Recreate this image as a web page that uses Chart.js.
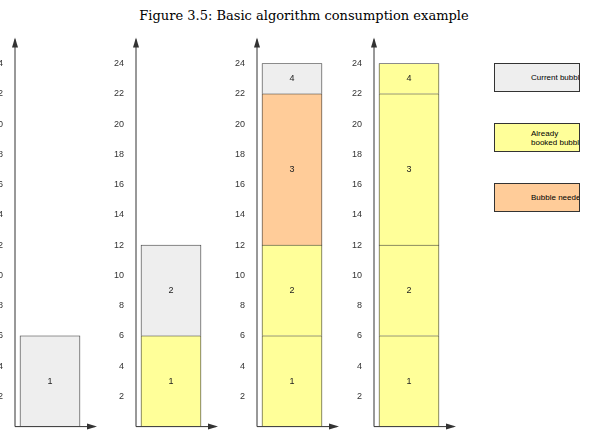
<!DOCTYPE html>
<html><head><meta charset="utf-8">
<script src="https://cdn.jsdelivr.net/npm/chart.js@4"></script>
<style>
body{margin:0;width:608px;height:439px;overflow:hidden;background:#fff;position:relative;font-family:Arial,"Liberation Sans",sans-serif}
#title{position:absolute;top:8px;left:0;width:608px;text-align:center;font-family:"DejaVu Serif","Liberation Serif",serif;font-size:13px;color:#000}
.p{position:absolute;top:30px;width:125px;height:406px}
.lg{position:absolute;left:494px;width:86px;height:29px;border:1px solid #333;box-sizing:border-box;font-size:8px;display:flex;align-items:center;padding-left:36px;white-space:nowrap;overflow:hidden;line-height:9px}
</style></head><body>
<div id="title">Figure 3.5: Basic algorithm consumption example</div>
<div class="p" style="left:-25px"><canvas id="c0"></canvas></div>
<div class="p" style="left:96px"><canvas id="c1"></canvas></div>
<div class="p" style="left:217px"><canvas id="c2"></canvas></div>
<div class="p" style="left:334px"><canvas id="c3"></canvas></div>
<div class="lg" style="top:63px;background:#eeeeee">Current bubble</div>
<div class="lg" style="top:123px;background:#ffff99">Already<br>booked bubble</div>
<div class="lg" style="top:183px;background:#ffcc99">Bubble needed</div>
<script>
const yTicks=[2,4,6,8,10,12,14,16,18,20,22,24];
const panel1Values=[6], panel1Labels=['1'], panel1Colors=['#eeeeee'];
const panel2Values=[6,6], panel2Labels=['1','2'], panel2Colors=['#ffff99','#eeeeee'];
const panel3Values=[6,6,10,2], panel3Labels=['1','2','3','4'], panel3Colors=['#ffff99','#ffff99','#ffcc99','#eeeeee'];
const panel4Values=[6,6,10,2], panel4Labels=['1','2','3','4'], panel4Colors=['#ffff99','#ffff99','#ffff99','#ffff99'];
const panels=[[panel1Values,panel1Labels,panel1Colors],[panel2Values,panel2Labels,panel2Colors],[panel3Values,panel3Labels,panel3Colors],[panel4Values,panel4Labels,panel4Colors]];
const deco={id:'deco',afterDatasetsDraw(ch){
  const c=ch.ctx,a=ch.chartArea;
  c.save();c.strokeStyle='#333';c.fillStyle='#333';c.lineWidth=1;
  c.beginPath();c.moveTo(a.left,a.bottom);c.lineTo(a.left,a.top);c.moveTo(a.left,a.bottom);c.lineTo(a.right,a.bottom);c.stroke();
  c.beginPath();c.moveTo(a.left,a.top-2);c.lineTo(a.left-3,a.top+8);c.lineTo(a.left+3,a.top+8);c.closePath();c.fill();
  c.beginPath();c.moveTo(a.right+2,a.bottom);c.lineTo(a.right-8,a.bottom-3);c.lineTo(a.right-8,a.bottom+3);c.closePath();c.fill();
  c.font='9px Arial';c.textAlign='center';c.textBaseline='middle';c.fillStyle='#222';
  ch.data.datasets.forEach((d,i)=>{const el=ch.getDatasetMeta(i).data[0];c.fillText(d.label,el.x,(el.y+el.base)/2);});
  c.restore();}};
panels.forEach(([vals,labs,cols],k)=>{
  new Chart(document.getElementById('c'+k),{type:'bar',
    data:{datasets:vals.map((v,i)=>({label:labs[i],data:[{x:30,y:v}],backgroundColor:cols[i],borderColor:'#333',borderWidth:0.8,barThickness:60}))},
    options:{animation:false,responsive:true,maintainAspectRatio:false,
      layout:{padding:{top:5,right:5,left:0,bottom:0}},
      plugins:{legend:{display:false},tooltip:{enabled:false}},
      scales:{
        x:{type:'linear',min:0,max:80,stacked:true,grid:{display:false},border:{display:false},ticks:{display:false},afterFit(s){s.height=0;}},
        y:{stacked:true,min:0,max:25.6,grid:{display:false},border:{display:false},
          afterBuildTicks(s){s.ticks=yTicks.map(v=>({value:v}));},
          afterFit(s){s.width=40;},
          ticks:{font:{size:9,family:'Arial'},color:'#333',padding:4}}}},
    plugins:[deco]});
});
</script>
</body></html>
